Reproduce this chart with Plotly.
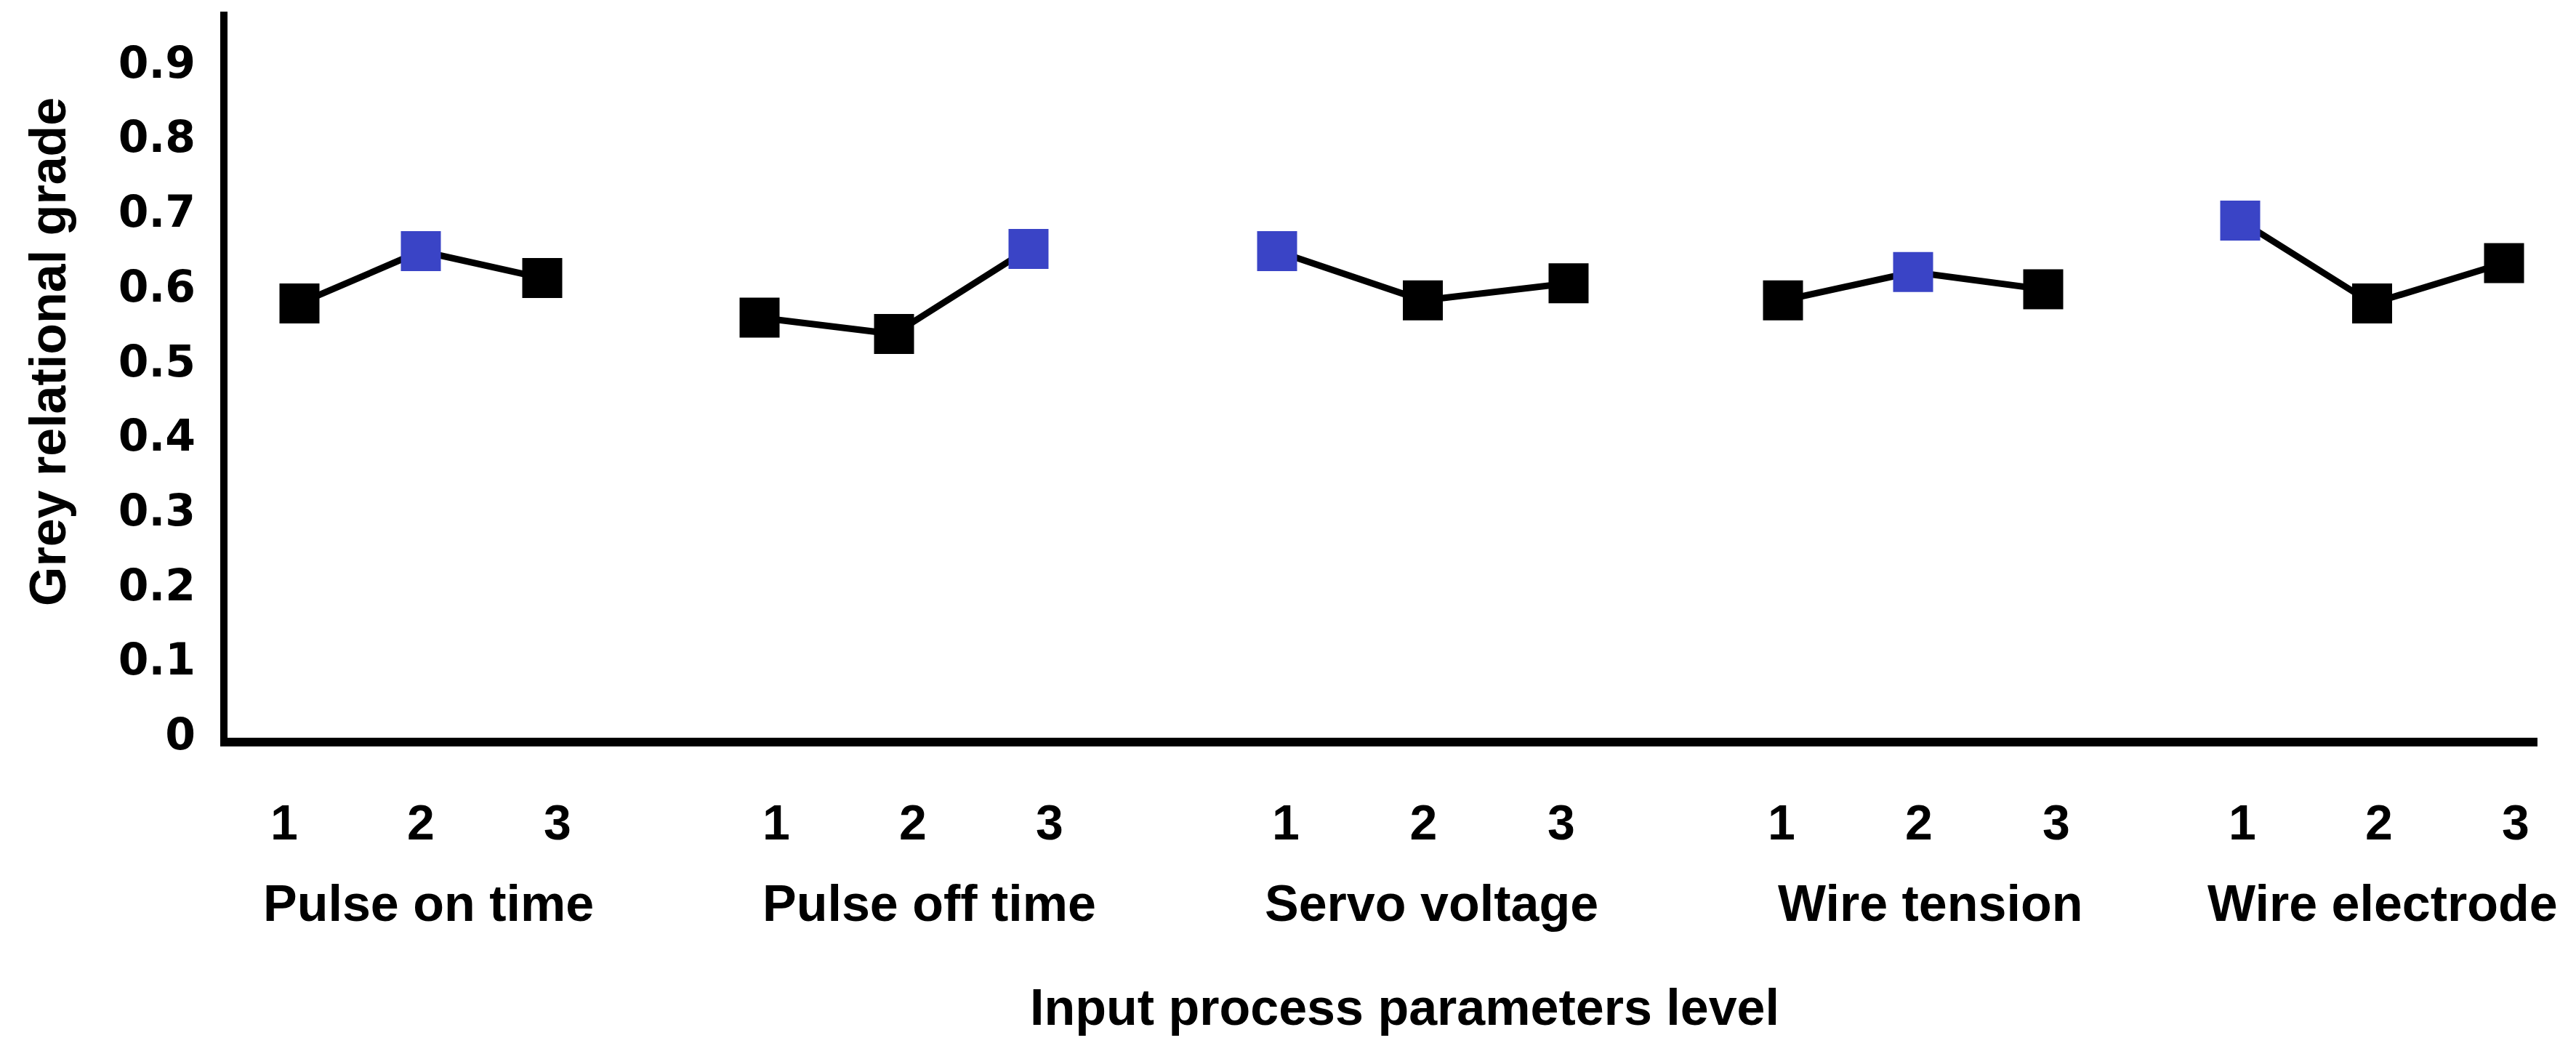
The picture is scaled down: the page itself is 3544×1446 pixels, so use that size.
import plotly.graph_objects as go

# ---------------- data ----------------
groups = ["Pulse on time", "Pulse off time", "Servo voltage", "Wire tension", "Wire electrode"]
levels = ["1", "2", "3"]
pulse_on_time = [0.577, 0.647, 0.611]
pulse_off_time = [0.558, 0.536, 0.650]
servo_voltage = [0.647, 0.581, 0.604]
wire_tension = [0.581, 0.619, 0.596]
wire_electrode = [0.688, 0.577, 0.631]
y_tick_values = [0, 0.1, 0.2, 0.3, 0.4, 0.5, 0.6, 0.7, 0.8, 0.9]
y_tick_labels = ["0", "0.1", "0.2", "0.3", "0.4", "0.5", "0.6", "0.7", "0.8", "0.9"]
x_title = "Input process parameters level"
y_title = "Grey relational grade"

series = [pulse_on_time, pulse_off_time, servo_voltage, wire_tension, wire_electrode]

# ---------------- layout (x axis units = 100 px from plot left) ----------------
group_start = [0.99, 7.32, 14.44, 21.40, 27.69]
level_step = [1.67, 1.85, 2.005, 1.79, 1.815]
label_start = [0.78, 7.55, 14.56, 21.38, 27.72]
label_step = [1.88, 1.88, 1.895, 1.89, 1.88]
group_label_x = [2.76, 9.65, 16.56, 23.42, 29.65]
x_range = [0, 31.78]
y_range = [-0.005, 0.968]

W, H = 3544, 1446
L, R, T, B = 313, 3491, 16, 1015
PW, PH = R - L, B - T

def px_x(px):
    return (px - L) / PW

def px_y(py):
    return (B - py) / PH

BLACK = "#000000"
BLUE = "#3A44C6"
TXT = "Liberation Sans, Arial, sans-serif"
NUM = "DejaVu Sans, Verdana, sans-serif"

fig = go.Figure()
tickvals, ticktext = [], []
annotations = []
for g, vals in enumerate(series):
    xs = [group_start[g] + i * level_step[g] for i in range(len(levels))]
    best = vals.index(max(vals))
    colors = [BLUE if i == best else BLACK for i in range(len(vals))]
    fig.add_trace(go.Scatter(
        x=xs, y=vals, mode="lines+markers",
        line=dict(color=BLACK, width=9),
        marker=dict(symbol="square", size=55, color=colors, line=dict(width=0)),
        showlegend=False, hoverinfo="skip",
    ))
    tickvals += [label_start[g] + i * label_step[g] for i in range(len(levels))]
    ticktext += levels
    annotations.append(dict(
        x=group_label_x[g], xref="x", y=px_y(1243), yref="paper",
        text="<b>%s</b>" % groups[g], showarrow=False,
        xanchor="center", yanchor="middle",
        font=dict(family=TXT, size=70, color=BLACK),
    ))

annotations.append(dict(
    x=px_x(1932), xref="paper", y=px_y(1386), yref="paper",
    text="<b>%s</b>" % x_title, showarrow=False,
    xanchor="center", yanchor="middle",
    font=dict(family=TXT, size=70, color=BLACK),
))
annotations.append(dict(
    x=px_x(66), xref="paper", y=px_y(484), yref="paper",
    text="<b>%s</b>" % y_title, showarrow=False, textangle=-90,
    xanchor="center", yanchor="middle",
    font=dict(family=TXT, size=70, color=BLACK),
))

fig.update_layout(
    width=W, height=H,
    margin=dict(l=L, r=W - R, t=T, b=H - B, pad=0),
    paper_bgcolor="white", plot_bgcolor="white",
    annotations=annotations,
    xaxis=dict(
        range=x_range, showgrid=False, zeroline=False,
        showline=True, linecolor=BLACK, linewidth=12,
        tickmode="array", tickvals=tickvals, ticktext=ticktext,
        ticks="", ticklabelstandoff=46,
        tickfont=dict(family=TXT, size=68, color=BLACK, weight="bold"),
    ),
    yaxis=dict(
        range=y_range, showgrid=False, zeroline=False,
        showline=True, linecolor=BLACK, linewidth=10,
        tickmode="array", tickvals=y_tick_values, ticktext=y_tick_labels,
        ticks="", ticklabelstandoff=22,
        tickfont=dict(family=NUM, size=60, color=BLACK, weight="bold"),
    ),
)

fig.write_html("out.html", config={"displayModeBar": False},
               post_script="document.body.style.margin='0';document.body.style.overflow='hidden';")
